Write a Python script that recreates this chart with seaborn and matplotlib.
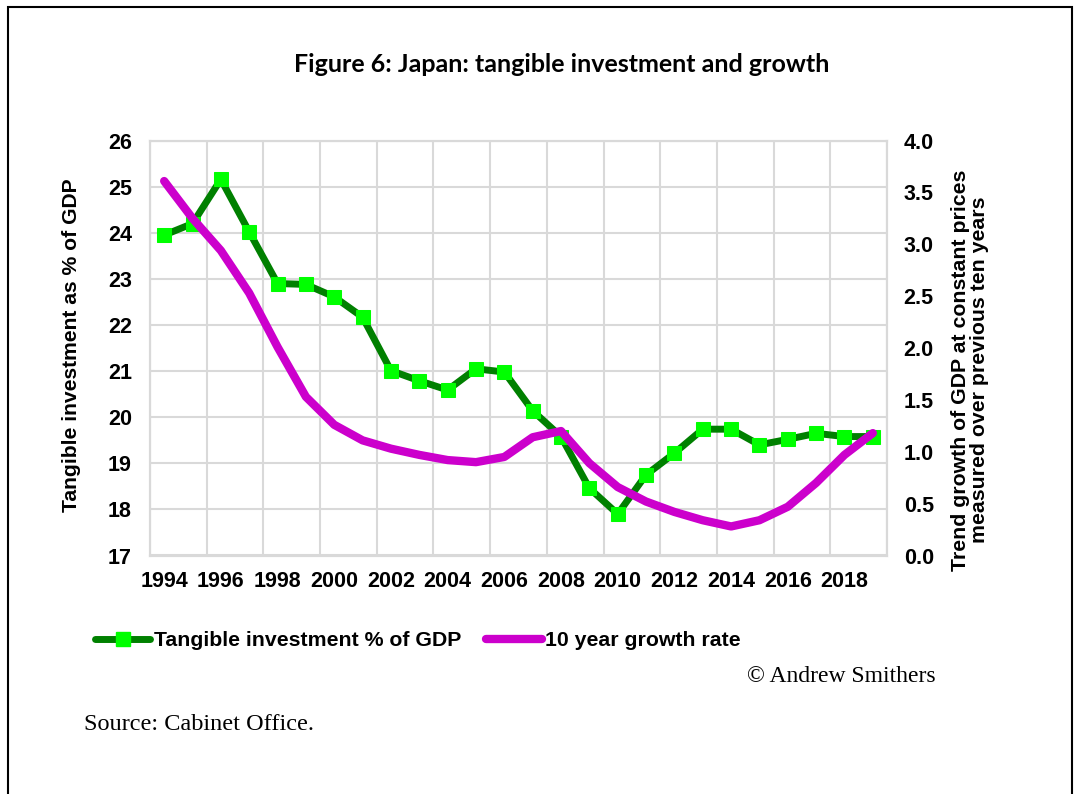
import matplotlib
matplotlib.use("Agg")
import matplotlib.pyplot as plt
from matplotlib.lines import Line2D
from matplotlib.patches import Rectangle
import seaborn as sns
import pandas as pd

years = list(range(1994, 2020))
investment = [23.95, 24.2, 25.16, 24.02, 22.9, 22.88, 22.61, 22.17, 21.01, 20.79,
              20.59, 21.05, 20.98, 20.14, 19.58, 18.46, 17.9, 18.75, 19.22, 19.74,
              19.74, 19.4, 19.52, 19.65, 19.58, 19.58]
growth = [3.61, 3.25, 2.94, 2.53, 2.01, 1.53, 1.26, 1.11, 1.03, 0.97,
          0.92, 0.90, 0.95, 1.14, 1.20, 0.89, 0.66, 0.52, 0.42, 0.34,
          0.28, 0.34, 0.47, 0.70, 0.97, 1.18]
tick_years = list(range(1994, 2019, 2))

title = "Figure 6: Japan: tangible investment and growth"
left_label = "Tangible investment as % of GDP"
right_label = "Trend growth of GDP at constant prices\nmeasured over previous ten years"
inv_name = "Tangible investment % of GDP"
gr_name = "10 year growth rate"

df = pd.DataFrame({"year": years, "inv": investment, "growth": growth})

sns.set_style("white")
plt.rcParams["font.family"] = ["Liberation Sans", "DejaVu Sans"]
plt.rcParams["text.color"] = "black"
plt.rcParams["axes.labelcolor"] = "black"
plt.rcParams["xtick.color"] = "black"
plt.rcParams["ytick.color"] = "black"

W, H = 1076, 794
fig = plt.figure(figsize=(W / 100, H / 100), dpi=100)
ax = fig.add_axes([150 / W, 1 - 555.5 / H, (887 - 150) / W, (555.5 - 140.6) / H])
ax2 = ax.twinx()

grid_c = "#D9D9D9"
sns.lineplot(data=df, x="year", y="inv", ax=ax, color="#008000", linewidth=5,
             marker="s", markersize=10, markerfacecolor="#00FF00",
             markeredgecolor="#00FF00", zorder=3)
sns.lineplot(data=df, x="year", y="growth", ax=ax2, color="#CC00CC", linewidth=6,
             solid_capstyle="round", zorder=3)

ax.set_xlim(1993.5, 2019.5)
ax.set_ylim(17, 26)
ax2.set_ylim(0, 4)
ax.set_yticks(range(17, 27))
ax2.set_yticks([i * 0.5 for i in range(9)])
ax2.set_yticklabels([f"{i * 0.5:.1f}" for i in range(9)])
ax.set_xticks(tick_years)
ax.set_xticks([1993.5 + 2 * k for k in range(14)], minor=True)
ax.grid(False)
ax.grid(True, which="minor", axis="x", color=grid_c, linewidth=1.5)
ax.grid(True, which="major", axis="y", color=grid_c, linewidth=1.5)
ax2.grid(False)
ax.set_axisbelow(True)

for a in (ax, ax2):
    for s in a.spines.values():
        s.set_color(grid_c)
        s.set_linewidth(1.5)
    a.set_xlabel("")
    a.set_ylabel("")

ax.tick_params(axis="x", which="both", length=0, pad=11)
ax.tick_params(axis="y", length=0, pad=13)
ax2.tick_params(axis="y", length=0, pad=12)
for lab in ax.get_xticklabels() + ax.get_yticklabels() + ax2.get_yticklabels():
    lab.set_fontsize(15.5)
    lab.set_fontweight("bold")
    lab.set_color("black")

fig.text(72 / W, 1 - 345 / H, left_label, rotation=90, ha="center", va="center",
         fontsize=15.2, fontweight="bold")
fig.text(970 / W, 1 - 370 / H, right_label, rotation=90, ha="center", va="center",
         fontsize=15.3, fontweight="bold", multialignment="center", linespacing=1.0)

fig.text(562 / W, 1 - 64 / H, title, ha="center", va="center",
         fontsize=18, fontweight="bold", family=["Lato", "DejaVu Sans"])

handles = [
    Line2D([], [], color="#008000", linewidth=5, marker="s", markersize=10,
           markerfacecolor="#00FF00", markeredgecolor="#00FF00", solid_capstyle="round"),
    Line2D([], [], color="#CC00CC", linewidth=6, solid_capstyle="round"),
]
leg = fig.legend(handles, [inv_name, gr_name], loc="center left",
                 bbox_to_anchor=(76 / W, 1 - 641 / H), ncol=2, frameon=False,
                 handlelength=2.6, handletextpad=0.15, columnspacing=1.2,
                 numpoints=1, prop={"size": 15.3, "weight": "bold"})

fig.text(936 / W, 1 - 677 / H, "\u00a9 Andrew Smithers", ha="right", va="center",
         fontsize=17, family=["Liberation Serif", "DejaVu Serif"])
fig.text(84 / W, 1 - 724 / H, "Source: Cabinet Office.", ha="left", va="center",
         fontsize=17.5, family=["Liberation Serif", "DejaVu Serif"])

fig.patches.append(Rectangle((8 / W, -0.05), (1072 - 8) / W, 1.05 - 7 / H,
                             transform=fig.transFigure, fill=False,
                             edgecolor="black", linewidth=1.5))

fig.savefig("out.png", dpi=100)
